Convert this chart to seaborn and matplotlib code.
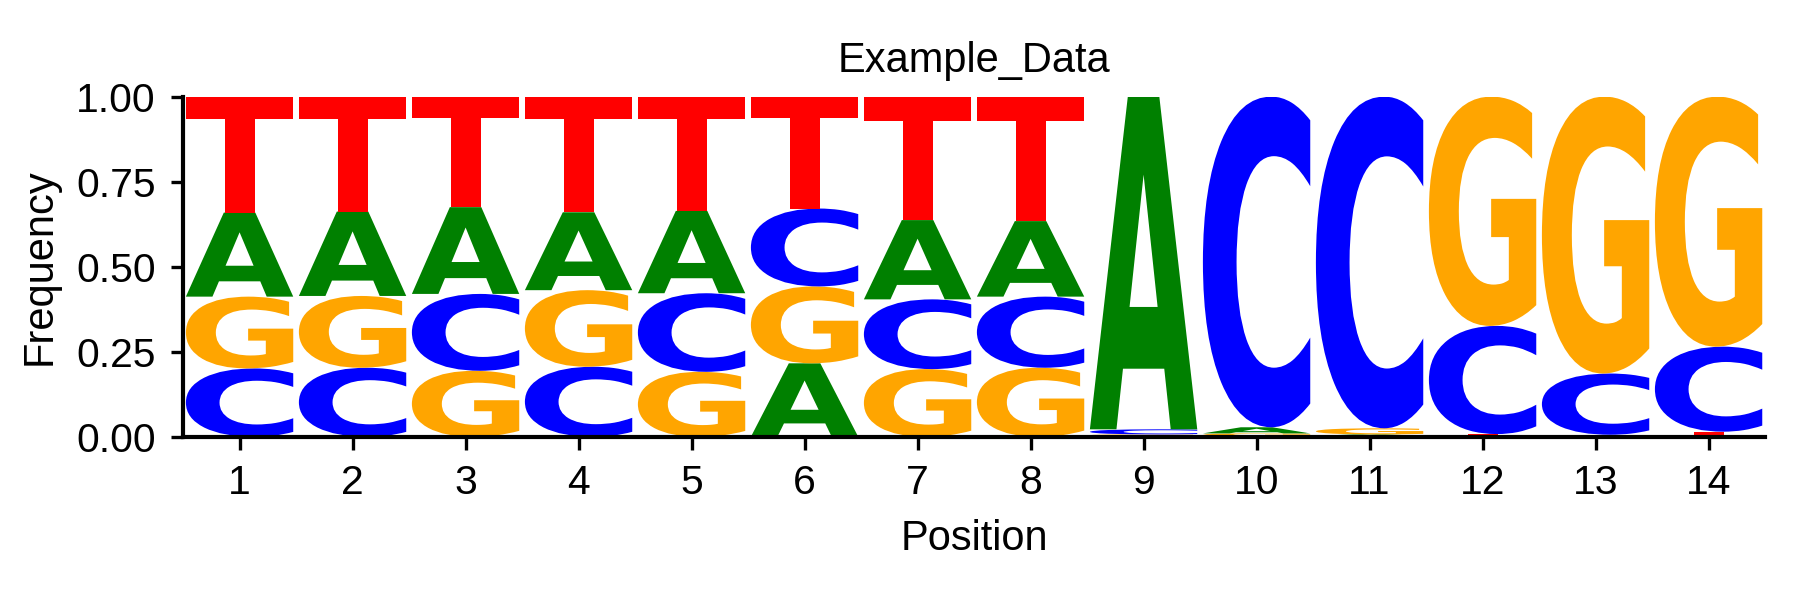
import pandas as pd
import seaborn as sns
import matplotlib
matplotlib.use("Agg")
import matplotlib.pyplot as plt
from matplotlib.textpath import TextPath
from matplotlib.patches import PathPatch
from matplotlib.font_manager import FontProperties
from matplotlib.transforms import Affine2D

# Datos (frecuencia de cada base por posicion)
positions = list(range(1, 15))
freq_A = [0.247, 0.248, 0.255, 0.229, 0.242, 0.216, 0.233, 0.222, 0.978, 0.018, 0.004, 0.004, 0.003, 0.003]
freq_C = [0.201, 0.203, 0.226, 0.206, 0.231, 0.229, 0.205, 0.209, 0.015, 0.972, 0.975, 0.318, 0.180, 0.250]
freq_G = [0.211, 0.211, 0.194, 0.225, 0.191, 0.226, 0.199, 0.203, 0.004, 0.006, 0.018, 0.674, 0.814, 0.735]
freq_T = [0.341, 0.338, 0.325, 0.340, 0.336, 0.329, 0.363, 0.366, 0.003, 0.004, 0.003, 0.004, 0.003, 0.012]

base_colors = {"A": "green", "C": "blue", "G": "orange", "T": "red"}

df = pd.DataFrame({"A": freq_A, "C": freq_C, "G": freq_G, "T": freq_T}, index=positions)

sns.set_style("ticks")
plt.rcParams["font.family"] = ["Liberation Sans", "DejaVu Sans"]
plt.rcParams["text.color"] = "black"
plt.rcParams["axes.labelcolor"] = "black"
plt.rcParams["xtick.color"] = "black"
plt.rcParams["ytick.color"] = "black"

fig, ax = plt.subplots(figsize=(6, 2), dpi=300)
fig.subplots_adjust(left=0.1017, right=0.9806, bottom=0.272, top=0.839)

glyph_font = FontProperties(family="DejaVu Sans", weight="bold")


def draw_letter(ax, letter, x, floor, ceiling, color, width=0.95):
    # letra estirada para llenar su caja en coordenadas de datos
    path = TextPath((0, 0), letter, size=1, prop=glyph_font)
    ext = path.get_extents()
    height = ceiling - floor
    if height <= 0:
        return
    tr = (Affine2D()
          .translate(-ext.x0, -ext.y0)
          .scale(width / ext.width, height / ext.height)
          .translate(x - width / 2, floor))
    ax.add_patch(PathPatch(tr.transform_path(path), facecolor=color,
                           edgecolor="none", lw=0))


# las letras grandes arriba
for pos, row in df.iterrows():
    floor = 0.0
    for letter, val in row.sort_values().items():
        draw_letter(ax, letter, pos, floor, floor + val, base_colors[letter])
        floor += val

ax.set_xlim(0.5, 14.5)
ax.set_ylim(0, 1)
ax.set_xticks(positions)
ax.set_xticklabels([str(p) for p in positions])
ax.set_yticks([0, 0.25, 0.5, 0.75, 1.0])
ax.set_yticklabels(["0.00", "0.25", "0.50", "0.75", "1.00"])

ax.set_title("Example_Data", fontsize=10)
ax.set_xlabel("Position", fontsize=10)
ax.set_ylabel("Frequency", fontsize=10)
ax.tick_params(labelsize=9.8, width=0.8, length=3, color="black")
sns.despine(ax=ax)
for side in ["left", "bottom"]:
    ax.spines[side].set_linewidth(1.0)
    ax.spines[side].set_color("black")

plt.savefig("out.png", dpi=300)
